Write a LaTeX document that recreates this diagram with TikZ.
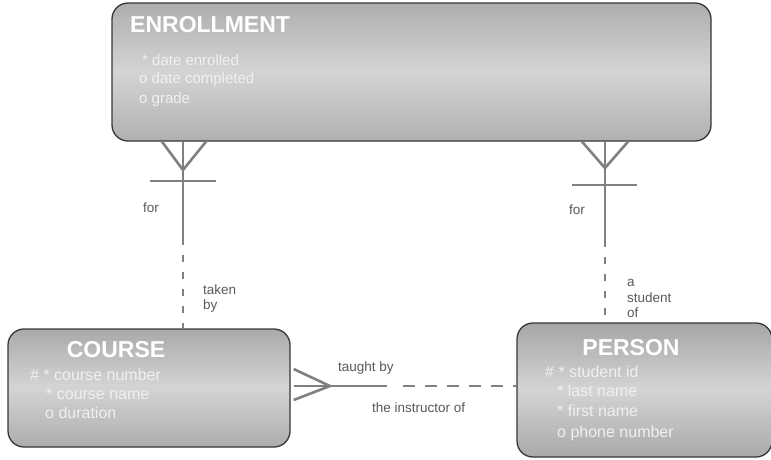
\documentclass[tikz,border=0pt]{standalone}
\usepackage{fontspec}
\setmainfont{Liberation Sans}
\usetikzlibrary{calc}

\definecolor{boxdark}{RGB}{140,140,140}
\definecolor{boxlight}{RGB}{212,212,212}
\definecolor{boxlow}{RGB}{146,146,146}
\definecolor{edgegray}{RGB}{55,55,55}
\definecolor{linkgray}{RGB}{128,128,128}
\definecolor{labelgray}{RGB}{88,88,88}
\definecolor{attrwhite}{RGB}{240,240,240}

\tikzset{
  % entity box: rounded frame filled with slanted grey bands;
  % the argument is the half span of the gradient across the box
  entity/.style={draw=edgegray, line width=1.3pt, rounded corners=16pt,
    inner sep=0pt,
    path picture={
      \foreach \k in {-45,...,44} {
        \pgfmathsetmacro\entS{max(-1,min(1,(\k*4+2)/#1))}
        \pgfmathsetmacro\entM{100*(1-abs(\entS))}
        \pgfmathtruncatemacro\entSg{\entS>0}
        \ifnum\entSg=1 \def\entEnd{boxdark}\else\def\entEnd{boxlow}\fi
        \fill[sharp corners, fill=boxlight!\entM!\entEnd,
          rotate around={17:(path picture bounding box.center)}]
          ($(path picture bounding box.center)+(-450pt,\k*4pt)$)
          rectangle ++(900pt,4.6pt);
      }
    }},
  title/.style={font=\fontsize{23}{27}\selectfont\bfseries, text=white,
    anchor=base west, inner sep=0pt},
  attr/.style={font=\fontsize{16}{19}\selectfont, text=attrwhite,
    anchor=base west, inner sep=0pt},
  rel/.style={draw=linkgray, line width=2.6pt},
  vdash/.style={rel, dash pattern=on 7pt off 10pt},
  hdash/.style={rel, dash pattern=on 12pt off 10pt},
  lbl/.style={font=\fontsize{13.5}{16}\selectfont, text=labelgray,
    anchor=base west, inner sep=0pt},
}

\begin{document}
\begin{tikzpicture}[x=1pt, y=-1pt]
\useasboundingbox (0,0) rectangle (771,459);
\begin{scope}
\clip (0,0) rectangle (771,459);

% entities
\node[entity=128, minimum width=599pt, minimum height=138pt] (enroll) at (411.5,72) {};
\node[entity=100, minimum width=282pt, minimum height=118pt] (course) at (149,388) {};
\node[entity=104, minimum width=255pt, minimum height=134pt] (person) at (644.5,390) {};

% ENROLLMENT contents
\node[title] (enrollT) at (130,32) {ENROLLMENT};
\node[attr, font=\fontsize{15}{18}\selectfont] (enrollA1) at (142,65) {* date enrolled};
\node[attr, font=\fontsize{15}{18}\selectfont] (enrollA2) at (139,83) {o date completed};
\node[attr, font=\fontsize{15}{18}\selectfont] (enrollA3) at (139,103) {o grade};

% COURSE contents
\node[title, anchor=base] (courseT) at (116,357) {COURSE};
\node[attr] (courseA1) at (30,380) {\# * course number};
\node[attr] (courseA2) at (46,399) {* course name};
\node[attr] (courseA3) at (45,418) {o duration};

% PERSON contents
\node[title, anchor=base] (personT) at (631,355) {PERSON};
\node[attr] (personA1) at (545,377) {\# * student id};
\node[attr] (personA2) at (557,396) {* last name};
\node[attr] (personA3) at (557,416) {* first name};
\node[attr] (personA4) at (557,437) {o phone number};

% COURSE -- ENROLLMENT
\coordinate (ceApex) at (183,170);
\coordinate (ceSolid) at (183,245);
\coordinate (ceDash) at (183,255);
\draw[rel] ($(enroll.south -| ceApex)+(-21,0)$) -- (ceApex)
  -- ($(enroll.south -| ceApex)+(23,0)$);
\draw[rel] (enroll.south -| ceApex) -- (ceSolid);
\draw[rel] ($(ceApex)+(-33,11)$) -- ($(ceApex)+(33,11)$);
\draw[vdash] (ceDash) -- (course.north -| ceDash);
\node[lbl] (ceFor) at (143,212) {for};
\node[lbl] (ceTaken1) at (203,294) {taken};
\node[lbl] (ceTaken2) at (203,309) {by};

% PERSON -- ENROLLMENT
\coordinate (peApex) at (605,168);
\coordinate (peSolid) at (605,247);
\coordinate (peDash) at (605,257);
\draw[rel] ($(enroll.south -| peApex)+(-23,0)$) -- (peApex)
  -- ($(enroll.south -| peApex)+(23,0)$);
\draw[rel] (enroll.south -| peApex) -- (peSolid);
\draw[rel] ($(peApex)+(-33,17)$) -- ($(peApex)+(32,17)$);
\draw[vdash] (peDash) -- (person.north -| peDash);
\node[lbl] (peFor) at (569,214) {for};
\node[lbl] (peOf1) at (627,286) {a};
\node[lbl] (peOf2) at (627,302) {student};
\node[lbl] (peOf3) at (627,317) {of};

% COURSE -- PERSON
\coordinate (cpApex) at (330,386);
\coordinate (cpSolid) at (387,386);
\coordinate (cpDash) at (403,386);
\draw[rel] ($(course.east |- cpApex)+(3,-17)$) -- (cpApex)
  -- ($(course.east |- cpApex)+(3,14)$);
\draw[rel] ($(course.east |- cpApex)+(3,0)$) -- (cpSolid);
\draw[hdash] (cpDash) -- (person.west |- cpDash);
\node[lbl] (cpTaught) at (338,371) {taught by};
\node[lbl] (cpInstr) at (372,412) {the instructor of};

\end{scope}
\end{tikzpicture}
\end{document}
